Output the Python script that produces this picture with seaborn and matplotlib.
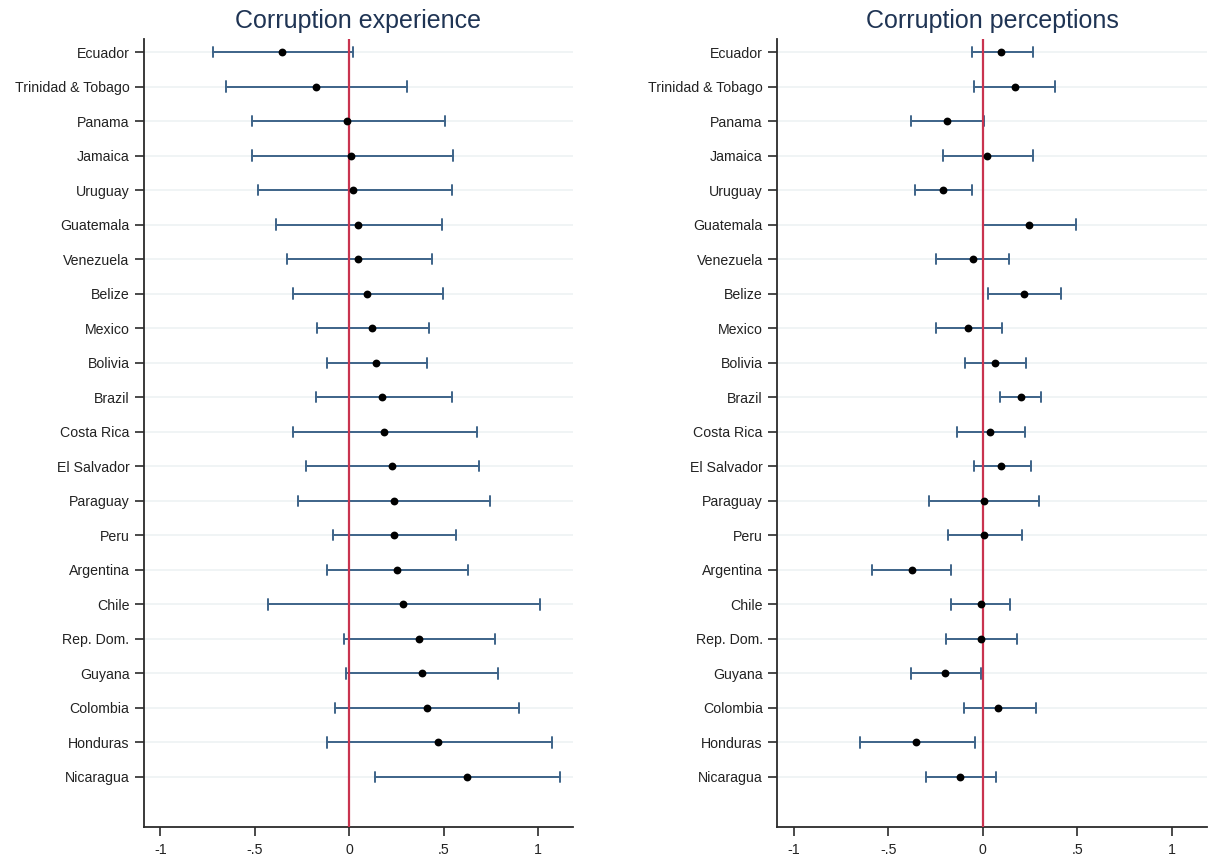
import matplotlib
matplotlib.use("Agg")
import matplotlib.pyplot as plt
import pandas as pd
import seaborn as sns

countries = [
    "Ecuador", "Trinidad & Tobago", "Panama", "Jamaica", "Uruguay",
    "Guatemala", "Venezuela", "Belize", "Mexico", "Bolivia", "Brazil",
    "Costa Rica", "El Salvador", "Paraguay", "Peru", "Argentina", "Chile",
    "Rep. Dom.", "Guyana", "Colombia", "Honduras", "Nicaragua",
]

# Corruption experience: point estimate and confidence bounds
exp_coef = [-0.358, -0.173, -0.012, 0.012, 0.021, 0.048, 0.048, 0.097,
            0.123, 0.141, 0.175, 0.183, 0.226, 0.235, 0.235, 0.251, 0.284,
            0.369, 0.386, 0.411, 0.471, 0.623]
exp_lo = [-0.720, -0.651, -0.517, -0.517, -0.483, -0.390, -0.330, -0.296,
          -0.169, -0.118, -0.178, -0.296, -0.229, -0.272, -0.085, -0.118,
          -0.432, -0.025, -0.016, -0.076, -0.118, 0.136]
exp_hi = [0.018, 0.305, 0.508, 0.552, 0.543, 0.492, 0.441, 0.499,
          0.425, 0.414, 0.543, 0.679, 0.688, 0.746, 0.568, 0.628, 1.009,
          0.771, 0.788, 0.898, 1.076, 1.118]

# Corruption perceptions: point estimate and confidence bounds
perc_coef = [0.099, 0.168, -0.189, 0.023, -0.213, 0.243, -0.053, 0.219,
             -0.078, 0.065, 0.201, 0.039, 0.099, 0.005, 0.005, -0.374,
             -0.012, -0.012, -0.198, 0.081, -0.351, -0.122]
perc_lo = [-0.058, -0.049, -0.379, -0.210, -0.361, 0.000, -0.245, 0.026,
           -0.245, -0.092, 0.093, -0.134, -0.049, -0.287, -0.185, -0.584,
           -0.168, -0.194, -0.379, -0.101, -0.651, -0.303]
perc_hi = [0.265, 0.383, 0.009, 0.265, -0.058, 0.492, 0.138, 0.416,
           0.104, 0.231, 0.307, 0.222, 0.256, 0.298, 0.205, -0.168,
           0.145, 0.180, -0.007, 0.280, -0.041, 0.071]

panel_titles = ["Corruption experience", "Corruption perceptions"]
xtick_values = [-1, -0.5, 0, 0.5, 1]
xtick_labels = ["-1", "-.5", "0", ".5", "1"]

ERR_COLOR = "#3e6489"
REF_COLOR = "#c9334f"
GRID_COLOR = "#edf2f4"
TITLE_COLOR = "#1f3454"
AXIS_COLOR = "#2b2b2b"

sns.set_theme(style="white")
plt.rcParams["font.family"] = ["Liberation Sans", "DejaVu Sans"]


def long_table(coef, lo, hi):
    """One row per bound/estimate so the median is the estimate and
    the min/max are the interval ends."""
    rows = []
    for c, a, b, d in zip(countries, lo, coef, hi):
        for v in (a, b, d):
            rows.append({"country": c, "value": v})
    return pd.DataFrame(rows)


fig = plt.figure(figsize=(12.14, 8.61), dpi=100)
ax1 = fig.add_axes([0.1186, 0.0395, 0.3534, 0.9152])
ax2 = fig.add_axes([0.6403, 0.0395, 0.3539, 0.9152])

panels = [
    (ax1, long_table(exp_coef, exp_lo, exp_hi), panel_titles[0]),
    (ax2, long_table(perc_coef, perc_lo, perc_hi), panel_titles[1]),
]

for ax, df, title in panels:
    sns.pointplot(
        data=df, x="value", y="country", order=countries,
        estimator="median", errorbar=lambda v: (v.min(), v.max()),
        color="black", markers="o", linestyle="none", markersize=3.6,
        capsize=0.3, err_kws={"color": ERR_COLOR, "linewidth": 1.4},
        ax=ax,
    )
    for line in ax.lines:
        if line.get_marker() not in (None, "None", "", " "):
            line.set_zorder(4)
        else:
            line.set_zorder(2)
    ax.axvline(0, color=REF_COLOR, lw=1.6, zorder=3)

    ax.set_xlim(-1.087, 1.186)
    ax.set_ylim(22.45, -0.377)
    ax.set_xticks(xtick_values, labels=xtick_labels)
    ax.set_xlabel("")
    ax.set_ylabel("")

    ax.grid(axis="y", color=GRID_COLOR, lw=1.2)
    ax.grid(axis="x", visible=False)
    ax.set_axisbelow(True)

    for side in ("top", "right"):
        ax.spines[side].set_visible(False)
    for side in ("left", "bottom"):
        ax.spines[side].set_color(AXIS_COLOR)
        ax.spines[side].set_linewidth(1.3)

    ax.tick_params(axis="both", bottom=True, left=True, length=6.5,
                   width=1.2, color=AXIS_COLOR, direction="out",
                   labelsize=10.2, labelcolor="#222222", pad=4)
    ax.tick_params(axis="x", pad=5)
    ax.set_title(title, fontsize=18, color=TITLE_COLOR, pad=8)

fig.savefig("out.png", dpi=100, facecolor="white")
